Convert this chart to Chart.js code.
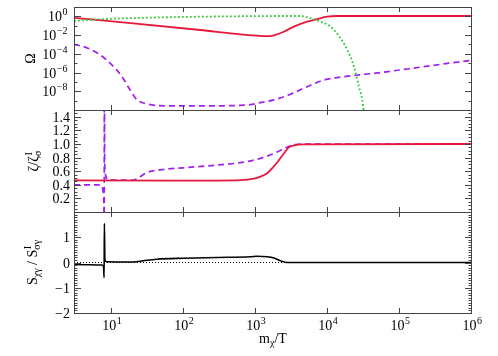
<!DOCTYPE html>
<html>
<head>
<meta charset="utf-8">
<script src="https://cdn.jsdelivr.net/npm/chart.js@4.4.1/dist/chart.umd.min.js"></script>
<style>
  body { margin: 0; background: #fff; }
  #wrap { position: relative; width: 498px; height: 356px; }
  #wrap canvas { position: absolute; left: 0; top: 0; }
</style>
</head>
<body>
<div id="wrap">
  <canvas id="omegaChart" width="498" height="356"></canvas>
  <canvas id="zetaChart" width="498" height="356"></canvas>
  <canvas id="entropyChart" width="498" height="356"></canvas>
</div>
<script>
// shared x axis (m_chi / T)
const xMin = 3;
const xMax = 1e6;
const xTickValues = [10, 100, 1e3, 1e4, 1e5, 1e6];
const xTickExps = ['1', '2', '3', '4', '5', '6'];

// top panel: Omega
const omegaTickValues = [1, 1e-2, 1e-4, 1e-6, 1e-8];
const omegaTickExps = ['0', '\u22122', '\u22124', '\u22126', '\u22128'];
const omegaMinorValues = [10, 1e-1, 1e-3, 1e-5, 1e-7, 1e-9];

const omegaRedX = [3, 20, 170, 611, 1040, 1436, 1780, 2450, 3370, 5160, 7110, 9800, 13500, 1e6];
const omegaRedY = [0.68, 0.18, 0.035, 0.012, 0.0087, 0.0076, 0.0095, 0.023, 0.079, 0.27, 0.52, 0.93, 1.1, 1.1];

const omegaGreenX = [3, 6.9, 58, 841, 4200, 5750, 7900, 10900, 15000, 18600, 23000, 27000, 30000, 31700];
const omegaGreenY = [0.32, 0.49, 0.8, 1.05, 1.1, 0.63, 0.27, 0.079, 0.0046, 2.6e-4, 4.3e-6, 3.1e-8, 1.2e-9, 6e-11];

const omegaPurpleX = [3, 4.5, 6.9, 9.5, 11.8, 14.6, 18, 22.3, 30.8, 58, 170, 841, 1040, 1780, 3030, 5160, 8800, 15000, 43600, 127000, 369000, 1e6];
const omegaPurpleY = [1.05e-3, 4.5e-4, 7.9e-5, 1.0e-5, 1.8e-6, 2.0e-7, 1.4e-8, 1.3e-9, 4.5e-10, 2.8e-10, 2.7e-10, 3.7e-10, 5.2e-10, 1.2e-9, 4.8e-9, 3.1e-8, 1.6e-7, 3.2e-7, 8.3e-7, 2.4e-6, 7.6e-6, 2.0e-5];

// middle panel: zeta / zeta_sigma
const zetaTickValues = [0.2, 0.4, 0.6, 0.8, 1.0, 1.2, 1.4];

const zetaRedX = [3, 3.1, 100, 611, 935, 1160, 1436, 1780, 2090, 2450, 2870, 3370, 4640, 1e6];
const zetaRedY = [0.49, 0.465, 0.462, 0.47, 0.49, 0.52, 0.57, 0.67, 0.76, 0.86, 0.95, 0.98, 0.995, 1.0];

const zetaPurpleX = [3, 6.2, 7.3, 7.6, 7.8, 7.88, 7.9, 8.0, 8.2, 8.6, 12, 20, 24.8, 30.8, 47, 99, 288, 611, 1040, 1780, 2450, 3030, 4200, 1e6];
const zetaPurpleY = [0.40, 0.40, 0.39, 0.3, 0.1, -1, 3, 0.75, 0.55, 0.48, 0.47, 0.47, 0.52, 0.58, 0.62, 0.65, 0.69, 0.725, 0.775, 0.86, 0.93, 0.975, 1.0, 1.0];

// bottom panel: entropy ratio
const entropyTickValues = [-2, -1, 0, 1];

const entropyX = [3, 7.3, 7.7, 7.85, 7.92, 8.05, 8.5, 20, 27.5, 42, 99, 288, 841, 1040, 1436, 1780, 2200, 2720, 1e6];
const entropyY = [-0.08, -0.1, -0.15, -0.6, 1.55, 0.1, 0.03, 0.02, 0.07, 0.13, 0.17, 0.2, 0.23, 0.25, 0.23, 0.18, 0.07, 0.0, 0.0];

const zeroX = [3, 1e6];
const zeroY = [0, 0];

const colors = {
  red: '#e8173c',
  green: '#2ec82e',
  purple: '#a020f0',
  black: '#000',
  axis: '#444',
};

const mainFont = '14px "Liberation Serif"';
const smallFont = '10px "Liberation Serif"';

function points(xs, ys) {
  return xs.map((x, i) => ({ x, y: ys[i] }));
}

// parts: [text, sup, sub]
function richWidth(ctx, parts) {
  let w = 0;
  for (const [t, sup, sub] of parts) {
    ctx.font = mainFont;
    w += ctx.measureText(t).width;
    ctx.font = smallFont;
    w += Math.max(sup ? ctx.measureText(sup).width : 0, sub ? ctx.measureText(sub).width : 0);
  }
  return w;
}

function drawRich(ctx, parts, x, y) {
  for (const [t, sup, sub] of parts) {
    ctx.font = mainFont;
    ctx.fillText(t, x, y);
    x += ctx.measureText(t).width;
    ctx.font = smallFont;
    let w = 0;
    if (sup) { ctx.fillText(sup, x + 0.5, y - 6); w = ctx.measureText(sup).width + 0.5; }
    if (sub) { ctx.fillText(sub, x, y + 3); w = Math.max(w, ctx.measureText(sub).width); }
    x += w;
  }
}

/**
 * Frame, inward ticks and labels, drawn from the chart's own scales.
 */
function framePlugin(panel) {
  return {
    id: 'frame',
    afterDatasetsDraw(chart) {
      const { ctx, chartArea: a, scales } = chart;
      const sx = scales.x, sy = scales.y;
      ctx.save();
      ctx.strokeStyle = colors.axis;
      ctx.fillStyle = '#000';
      ctx.lineWidth = 1;
      ctx.strokeRect(a.left + 0.5, a.top + 0.5, a.right - a.left - 1, a.bottom - a.top);

      ctx.beginPath();
      xTickValues.forEach((v) => {
        const px = Math.round(sx.getPixelForValue(v)) - 0.5;
        ctx.moveTo(px, a.bottom); ctx.lineTo(px, a.bottom - 5);
        ctx.moveTo(px, a.top); ctx.lineTo(px, a.top + 5);
      });
      const yTick = (v, len) => {
        const py = Math.round(sy.getPixelForValue(v)) + 0.5;
        ctx.moveTo(a.left, py); ctx.lineTo(a.left + len, py);
        ctx.moveTo(a.right, py); ctx.lineTo(a.right - len, py);
      };
      panel.yMajor.forEach((v) => yTick(v, 7));
      panel.yMinor.forEach((v) => yTick(v, 3.5));
      ctx.stroke();

      ctx.textBaseline = 'alphabetic';
      panel.yMajor.forEach((v, i) => {
        const parts = panel.yLabels[i];
        const w = richWidth(ctx, parts);
        const py = sy.getPixelForValue(v);
        drawRich(ctx, parts, a.left - panel.labelGap - w, py + 5);
      });

      if (panel.xLabels) {
        xTickValues.forEach((v, i) => {
          const parts = [['10', xTickExps[i]]];
          const w = richWidth(ctx, parts);
          drawRich(ctx, parts, sx.getPixelForValue(v) - w / 2, a.bottom + 17);
        });
        const tp = [['m', null, '\u03c7'], ['/T']];
        drawRich(ctx, tp, (a.left + a.right) / 2 - richWidth(ctx, tp) / 2, a.bottom + 30);
      }

      const tw = richWidth(ctx, panel.title);
      ctx.translate(panel.titleX, (a.top + a.bottom) / 2);
      ctx.rotate(-Math.PI / 2);
      drawRich(ctx, panel.title, -tw / 2, 0);
      ctx.restore();
    },
  };
}

function lineSet(data, color, dash, width) {
  return {
    data,
    borderColor: color,
    borderWidth: width,
    borderDash: dash,
    pointRadius: 0,
    fill: false,
    cubicInterpolationMode: 'monotone',
  };
}

function makePanel(id, padding, yScale, datasets, panel) {
  return new Chart(document.getElementById(id), {
    type: 'line',
    data: { datasets },
    options: {
      responsive: false,
      animation: false,
      devicePixelRatio: 1,
      events: [],
      layout: { padding },
      plugins: { legend: { display: false }, tooltip: { enabled: false } },
      scales: {
        x: { type: 'logarithmic', min: xMin, max: xMax, display: false },
        y: Object.assign({ display: false }, yScale),
      },
    },
    plugins: [framePlugin(panel)],
  });
}

makePanel('omegaChart', { left: 74, right: 26, top: 7, bottom: 246 },
  { type: 'logarithmic', min: 1e-10, max: 10 },
  [
    lineSet(points(omegaGreenX, omegaGreenY), colors.green, [1.8, 2.2], 1.8),
    lineSet(points(omegaPurpleX, omegaPurpleY), colors.purple, [6, 4], 1.7),
    lineSet(points(omegaRedX, omegaRedY), colors.red, [], 1.8),
  ],
  {
    yMajor: omegaTickValues,
    yMinor: omegaMinorValues,
    yLabels: omegaTickExps.map((e) => [['10', e]]),
    labelGap: 7,
    title: [['\u03a9']],
    titleX: 35,
  });

makePanel('zetaChart', { left: 74, right: 26, top: 110, bottom: 144 },
  { type: 'linear', min: 0, max: 1.5 },
  [
    lineSet(points(zetaRedX, zetaRedY), colors.red, [], 1.8),
    lineSet(points(zetaPurpleX, zetaPurpleY), colors.purple, [6, 4], 1.7),
  ],
  {
    yMajor: zetaTickValues,
    yMinor: Array.from({ length: 31 }, (_, i) => i * 0.05),
    yLabels: zetaTickValues.map((v) => [[v.toFixed(1)]]),
    labelGap: 4,
    title: [['\u03b6/\u03b6', 'I', '\u03c3']],
    titleX: 38,
  });

makePanel('entropyChart', { left: 74, right: 26, top: 212, bottom: 43 },
  { type: 'linear', min: -2, max: 2 },
  [
    lineSet(points(zeroX, zeroY), colors.black, [1, 2], 1),
    lineSet(points(entropyX, entropyY), colors.black, [], 1.6),
  ],
  {
    yMajor: entropyTickValues,
    yMinor: Array.from({ length: 41 }, (_, i) => -2 + i * 0.1),
    yLabels: entropyTickValues.map((v) => [[v < 0 ? '\u2212' + Math.abs(v) : String(v)]]),
    labelGap: 4,
    title: [['S', null, '\u03c7\u03b3'], [' / S', 'I', '\u03c3\u03b3']],
    titleX: 37,
    xLabels: true,
  });
</script>
</body>
</html>
